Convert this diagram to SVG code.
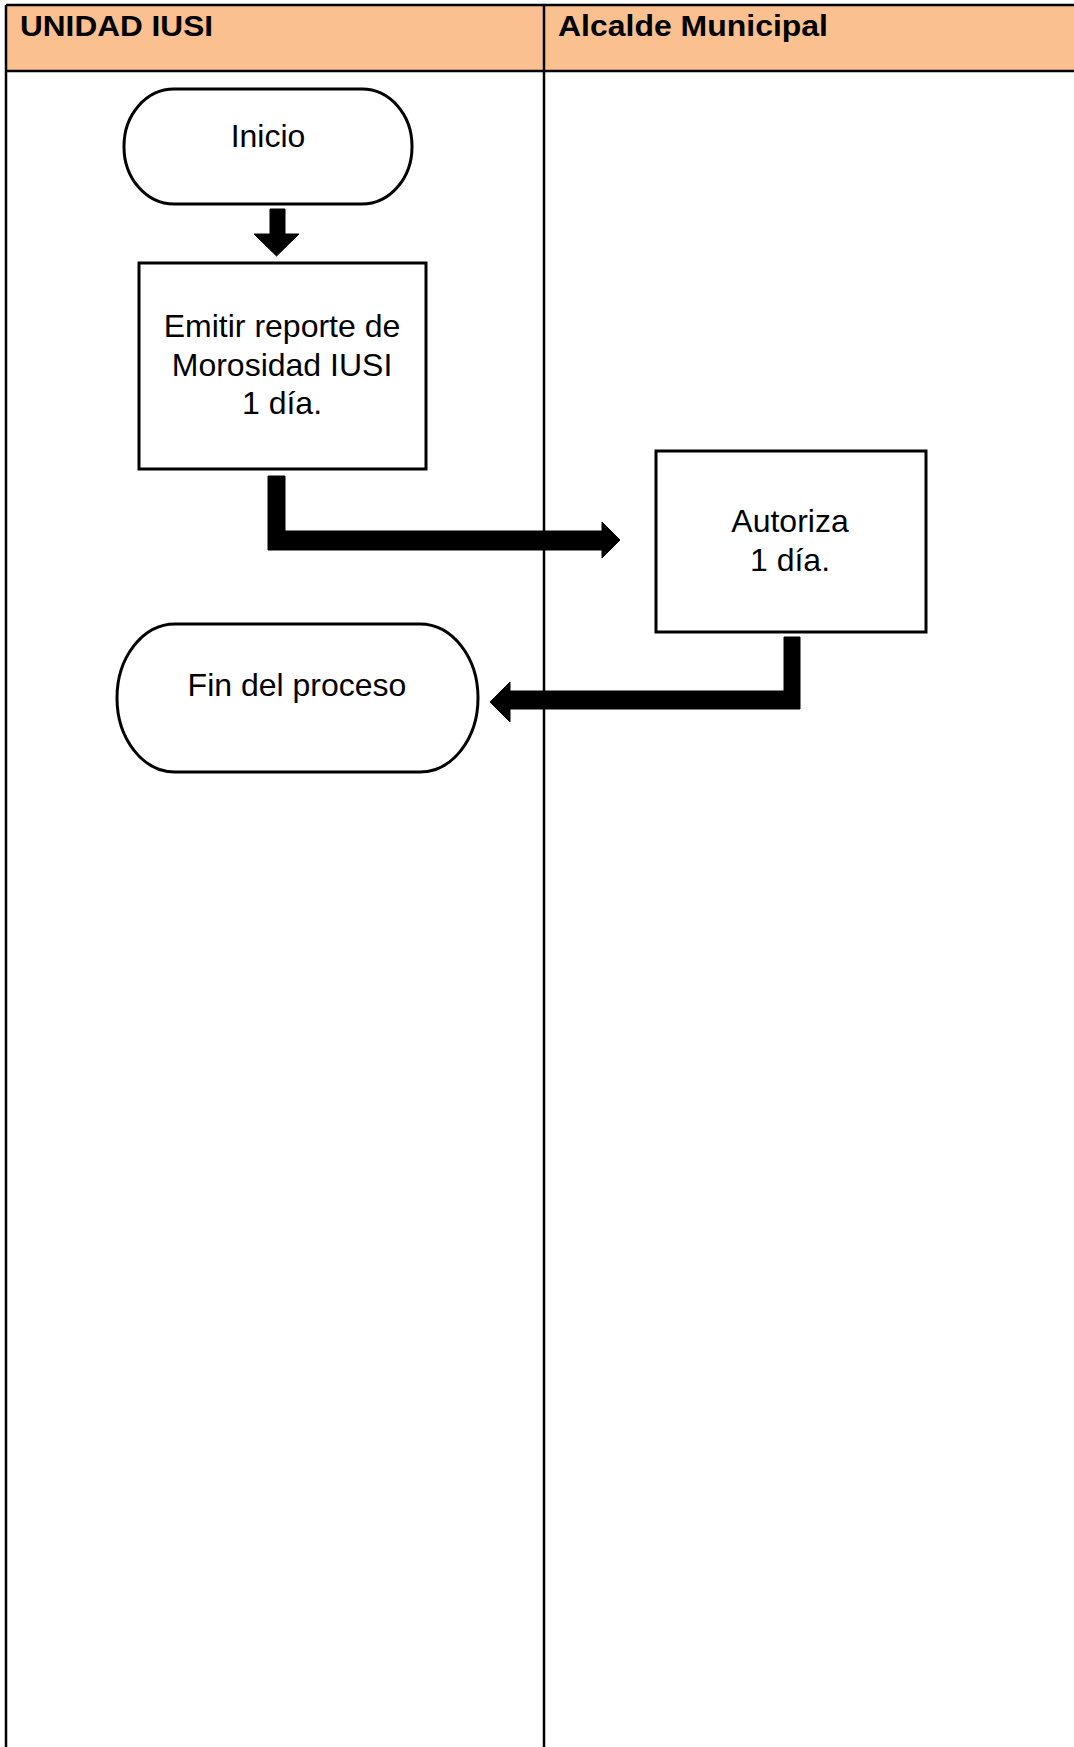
<svg xmlns="http://www.w3.org/2000/svg" width="1074" height="1747" viewBox="0 0 1074 1747">
<style>
.lane{stroke:#000;stroke-width:2.5;fill:none}
.hdr{font-family:"Liberation Sans",Arial,sans-serif;font-weight:bold;font-size:30px;fill:#000}
.lbl{font-family:"Liberation Sans",Arial,sans-serif;font-size:32px;fill:#000;text-anchor:middle}
.shape{fill:#fff;stroke:#000;stroke-width:3}
.conn{fill:#000;stroke:#000;stroke-width:1;stroke-linejoin:round}
</style>
<rect x="0" y="0" width="1074" height="1747" fill="#fff"/>
<g id="lanes">
<rect x="6" y="5" width="1070" height="66" fill="#FAC090"/>
<line class="lane" x1="6" y1="5" x2="1074" y2="5"/>
<line class="lane" x1="6" y1="71" x2="1074" y2="71"/>
<line class="lane" x1="6" y1="5" x2="6" y2="1747"/>
<line class="lane" x1="544" y1="5" x2="544" y2="1747"/>
<text class="hdr" x="20" y="36" textLength="193" lengthAdjust="spacingAndGlyphs">UNIDAD IUSI</text>
<text class="hdr" x="558" y="36" textLength="270" lengthAdjust="spacingAndGlyphs">Alcalde Municipal</text>
</g>
<g id="connectors">
<polygon class="conn" points="270,209 285,209 285,234 299,234 276.5,256 254,234 270,234"/>
<polygon class="conn" points="268,476 285,476 285,531 602,531 602,522 620,540 602,558 602,550 268,550"/>
<polygon class="conn" points="784,637 800,637 800,709 510,709 510,722 490,702 510,682 510,691 784,691"/>
</g>
<g id="inicio">
<rect class="shape" x="124" y="89" width="288" height="115" rx="50" ry="57"/>
<text class="lbl" x="268" y="147">Inicio</text>
</g>
<g id="emitir">
<rect class="shape" x="139" y="263" width="287" height="206"/>
<text class="lbl" x="282" y="337">Emitir reporte de</text>
<text class="lbl" x="282" y="376">Morosidad IUSI</text>
<text class="lbl" x="282" y="414">1 día.</text>
</g>
<g id="autoriza">
<rect class="shape" x="656" y="451" width="270" height="181"/>
<text class="lbl" x="790" y="532">Autoriza</text>
<text class="lbl" x="790" y="571">1 día.</text>
</g>
<g id="fin">
<rect class="shape" x="117" y="624" width="361" height="148" rx="58" ry="74"/>
<text class="lbl" x="297" y="696">Fin del proceso</text>
</g>
</svg>
